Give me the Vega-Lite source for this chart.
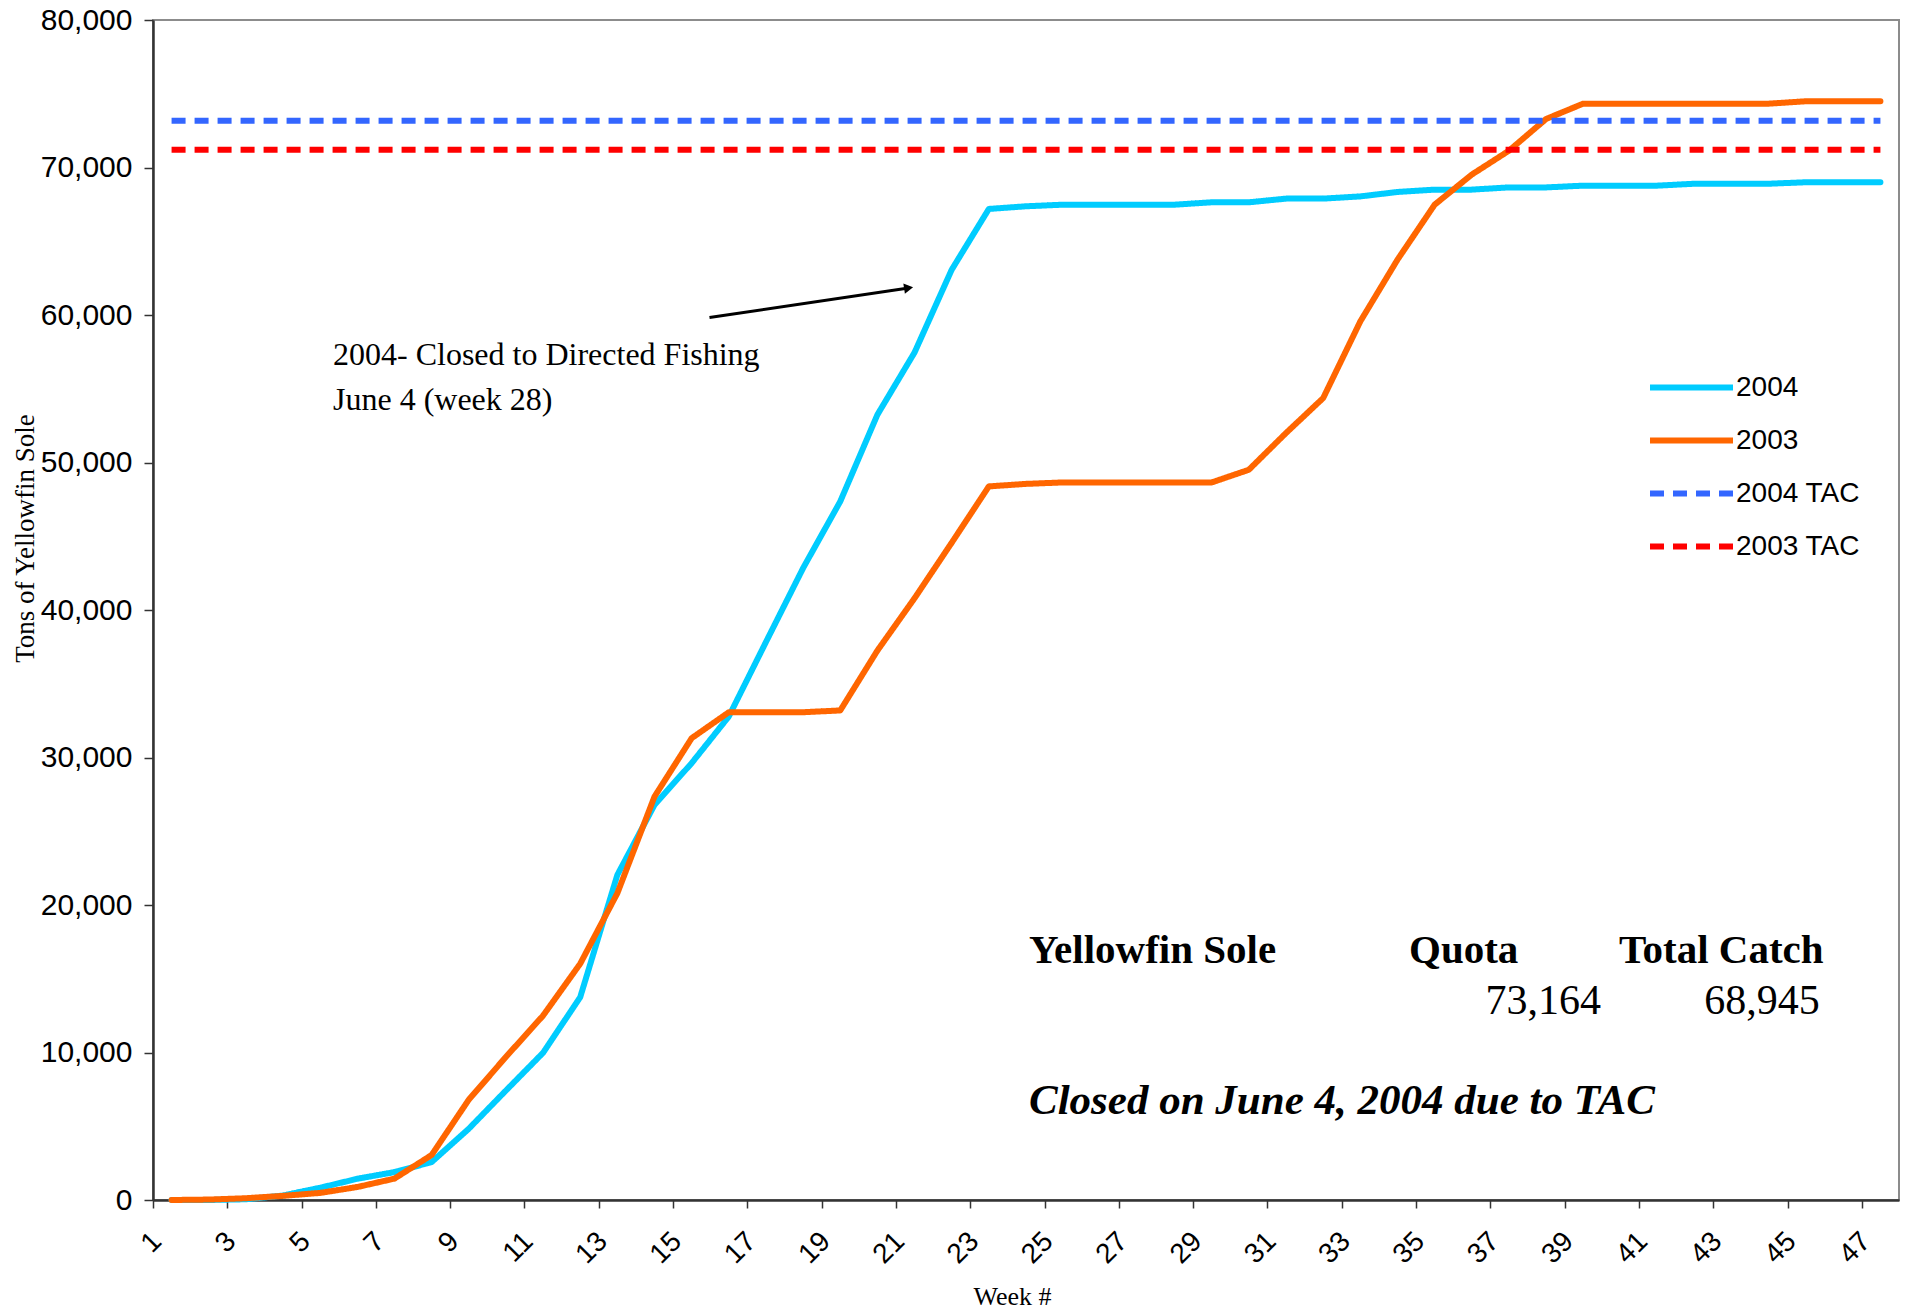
{
  "$schema": "https://vega.github.io/schema/vega-lite/v6.json",
  "autosize": {"type": "none"},
  "width": 1746,
  "height": 1180,
  "padding": {"left": 153, "top": 20, "right": 8, "bottom": 111},
  "background": "white",
  "config": {
    "view": {"stroke": "#8c8c8c", "strokeWidth": 2},
    "axis": {"grid": false},
    "legend": {
      "orient": "none",
      "legendX": 1494,
      "legendY": 342,
      "symbolType": "stroke",
      "symbolSize": 6889,
      "labelFont": "Liberation Sans",
      "labelFontSize": 28,
      "labelColor": "#000000",
      "labelOffset": 0,
      "symbolOffset": 0,
      "padding": 0,
      "clipHeight": 51,
      "rowPadding": 2,
      "titlePadding": 0
    }
  },
  "datasets": {
    "one": [{"a": 1}],
    "catch": [
      {"week": 1, "series": "2004", "tons": 0},
      {"week": 2, "series": "2004", "tons": 0},
      {"week": 3, "series": "2004", "tons": 50},
      {"week": 4, "series": "2004", "tons": 300},
      {"week": 5, "series": "2004", "tons": 830},
      {"week": 6, "series": "2004", "tons": 1440},
      {"week": 7, "series": "2004", "tons": 1890},
      {"week": 8, "series": "2004", "tons": 2570},
      {"week": 9, "series": "2004", "tons": 4830},
      {"week": 10, "series": "2004", "tons": 7420},
      {"week": 11, "series": "2004", "tons": 9980},
      {"week": 12, "series": "2004", "tons": 13750},
      {"week": 13, "series": "2004", "tons": 22040},
      {"week": 14, "series": "2004", "tons": 26790},
      {"week": 15, "series": "2004", "tons": 29620},
      {"week": 16, "series": "2004", "tons": 32780},
      {"week": 17, "series": "2004", "tons": 37830},
      {"week": 18, "series": "2004", "tons": 42840},
      {"week": 19, "series": "2004", "tons": 47360},
      {"week": 20, "series": "2004", "tons": 53240},
      {"week": 21, "series": "2004", "tons": 57460},
      {"week": 22, "series": "2004", "tons": 63070},
      {"week": 23, "series": "2004", "tons": 67190},
      {"week": 24, "series": "2004", "tons": 67370},
      {"week": 25, "series": "2004", "tons": 67480},
      {"week": 26, "series": "2004", "tons": 67480},
      {"week": 27, "series": "2004", "tons": 67480},
      {"week": 28, "series": "2004", "tons": 67480},
      {"week": 29, "series": "2004", "tons": 67640},
      {"week": 30, "series": "2004", "tons": 67640},
      {"week": 31, "series": "2004", "tons": 67890},
      {"week": 32, "series": "2004", "tons": 67890},
      {"week": 33, "series": "2004", "tons": 68040},
      {"week": 34, "series": "2004", "tons": 68340},
      {"week": 35, "series": "2004", "tons": 68500},
      {"week": 36, "series": "2004", "tons": 68500},
      {"week": 37, "series": "2004", "tons": 68650},
      {"week": 38, "series": "2004", "tons": 68650},
      {"week": 39, "series": "2004", "tons": 68770},
      {"week": 40, "series": "2004", "tons": 68770},
      {"week": 41, "series": "2004", "tons": 68770},
      {"week": 42, "series": "2004", "tons": 68900},
      {"week": 43, "series": "2004", "tons": 68900},
      {"week": 44, "series": "2004", "tons": 68900},
      {"week": 45, "series": "2004", "tons": 69000},
      {"week": 46, "series": "2004", "tons": 69000},
      {"week": 47, "series": "2004", "tons": 69000},
      {"week": 1, "series": "2003", "tons": 0},
      {"week": 2, "series": "2003", "tons": 30},
      {"week": 3, "series": "2003", "tons": 120},
      {"week": 4, "series": "2003", "tons": 280},
      {"week": 5, "series": "2003", "tons": 480},
      {"week": 6, "series": "2003", "tons": 880},
      {"week": 7, "series": "2003", "tons": 1450},
      {"week": 8, "series": "2003", "tons": 3050},
      {"week": 9, "series": "2003", "tons": 6800},
      {"week": 10, "series": "2003", "tons": 9700},
      {"week": 11, "series": "2003", "tons": 12500},
      {"week": 12, "series": "2003", "tons": 16020},
      {"week": 13, "series": "2003", "tons": 20800},
      {"week": 14, "series": "2003", "tons": 27350},
      {"week": 15, "series": "2003", "tons": 31310},
      {"week": 16, "series": "2003", "tons": 33070},
      {"week": 17, "series": "2003", "tons": 33070},
      {"week": 18, "series": "2003", "tons": 33070},
      {"week": 19, "series": "2003", "tons": 33190},
      {"week": 20, "series": "2003", "tons": 37250},
      {"week": 21, "series": "2003", "tons": 40800},
      {"week": 22, "series": "2003", "tons": 44560},
      {"week": 23, "series": "2003", "tons": 48380},
      {"week": 24, "series": "2003", "tons": 48550},
      {"week": 25, "series": "2003", "tons": 48650},
      {"week": 26, "series": "2003", "tons": 48650},
      {"week": 27, "series": "2003", "tons": 48650},
      {"week": 28, "series": "2003", "tons": 48650},
      {"week": 29, "series": "2003", "tons": 48650},
      {"week": 30, "series": "2003", "tons": 49510},
      {"week": 31, "series": "2003", "tons": 52000},
      {"week": 32, "series": "2003", "tons": 54370},
      {"week": 33, "series": "2003", "tons": 59570},
      {"week": 34, "series": "2003", "tons": 63750},
      {"week": 35, "series": "2003", "tons": 67480},
      {"week": 36, "series": "2003", "tons": 69520},
      {"week": 37, "series": "2003", "tons": 71140},
      {"week": 38, "series": "2003", "tons": 73290},
      {"week": 39, "series": "2003", "tons": 74330},
      {"week": 40, "series": "2003", "tons": 74330},
      {"week": 41, "series": "2003", "tons": 74330},
      {"week": 42, "series": "2003", "tons": 74330},
      {"week": 43, "series": "2003", "tons": 74330},
      {"week": 44, "series": "2003", "tons": 74330},
      {"week": 45, "series": "2003", "tons": 74490},
      {"week": 46, "series": "2003", "tons": 74490},
      {"week": 47, "series": "2003", "tons": 74490},
      {"week": 1, "series": "2004 TAC", "tons": 73164},
      {"week": 47, "series": "2004 TAC", "tons": 73164},
      {"week": 1, "series": "2003 TAC", "tons": 71200},
      {"week": 47, "series": "2003 TAC", "tons": 71200}
    ]
  },
  "layer": [
    {
      "data": {"name": "catch"},
      "transform": [{"filter": "datum.series == '2004' || datum.series == '2003'"}],
      "mark": {"type": "line", "strokeCap": "round", "strokeJoin": "round"},
      "encoding": {
        "x": {
          "field": "week",
          "type": "quantitative",
          "title": "Week #",
          "scale": {"domain": [0.5, 47.5], "nice": false, "zero": false},
          "axis": {
            "values": [0.5, 1.5, 2.5, 3.5, 4.5, 5.5, 6.5, 7.5, 8.5, 9.5, 10.5, 11.5, 12.5, 13.5, 14.5, 15.5, 16.5, 17.5, 18.5, 19.5, 20.5, 21.5, 22.5, 23.5, 24.5, 25.5, 26.5, 27.5, 28.5, 29.5, 30.5, 31.5, 32.5, 33.5, 34.5, 35.5, 36.5, 37.5, 38.5, 39.5, 40.5, 41.5, 42.5, 43.5, 44.5, 45.5, 46.5, 47.5],
            "labelExpr": "(datum.value + 0.5) % 2 == 1 ? '' + (datum.value + 0.5) : ''",
            "labelAngle": -45,
            "labelAlign": "right",
            "labelBaseline": "top",
            "labelOffset": -6,
            "labelPadding": 19,
            "labelFont": "Liberation Sans",
            "labelFontSize": 28,
            "labelColor": "#000000",
            "labelFlush": false,
            "labelOverlap": false,
            "labelBound": false,
            "tickSize": 8,
            "tickColor": "#333333",
            "tickWidth": 1.5,
            "domainColor": "#333333",
            "domainWidth": 2.5,
            "titleFont": "Liberation Serif",
            "titleFontSize": 26,
            "titleFontWeight": "normal",
            "titleColor": "#000000",
            "titleX": 859,
            "titleY": 104,
            "titleAlign": "center",
            "titleBaseline": "alphabetic"
          }
        },
        "y": {
          "field": "tons",
          "type": "quantitative",
          "title": "Tons of Yellowfin Sole",
          "scale": {"domain": [0, 80000], "nice": false},
          "axis": {
            "values": [0, 10000, 20000, 30000, 40000, 50000, 60000, 70000, 80000],
            "format": ",d",
            "labelFont": "Liberation Sans",
            "labelFontSize": 30,
            "labelColor": "#000000",
            "labelPadding": 12,
            "labelFlush": false,
            "tickSize": 9,
            "tickColor": "#333333",
            "tickWidth": 1.5,
            "domainColor": "#333333",
            "domainWidth": 2.5,
            "titleFont": "Liberation Serif",
            "titleFontSize": 27,
            "titleFontWeight": "normal",
            "titleColor": "#000000",
            "titleAngle": -90,
            "titleX": -120,
            "titleY": 518,
            "titleAlign": "center",
            "titleBaseline": "alphabetic"
          }
        },
        "color": {"field": "series", "type": "ordinal", "title": null, "scale": {"domain": ["2004", "2003", "2004 TAC", "2003 TAC"], "range": ["#00CCFF", "#FF6600", "#3366FF", "#FF0000"]}},
        "strokeDash": {"field": "series", "type": "ordinal", "title": null, "scale": {"domain": ["2004", "2003", "2004 TAC", "2003 TAC"], "range": [[1, 0], [1, 0], [14, 9], [14, 9]]}},
        "strokeWidth": {"field": "series", "type": "ordinal", "title": null, "scale": {"domain": ["2004", "2003", "2004 TAC", "2003 TAC"], "range": [6, 6, 3, 3]}}
      }
    },
    {
      "data": {"name": "catch"},
      "transform": [{"filter": "datum.series == '2004 TAC' || datum.series == '2003 TAC'"}],
      "mark": {"type": "line"},
      "encoding": {
        "x": {"field": "week", "type": "quantitative"},
        "y": {"field": "tons", "type": "quantitative"},
        "color": {"field": "series", "type": "ordinal", "title": null, "scale": {"domain": ["2004", "2003", "2004 TAC", "2003 TAC"], "range": ["#00CCFF", "#FF6600", "#3366FF", "#FF0000"]}},
        "strokeDash": {"field": "series", "type": "ordinal", "title": null, "scale": {"domain": ["2004", "2003", "2004 TAC", "2003 TAC"], "range": [[1, 0], [1, 0], [14, 9], [14, 9]]}},
        "strokeWidth": {"field": "series", "type": "ordinal", "title": null, "scale": {"domain": ["2004", "2003", "2004 TAC", "2003 TAC"], "range": [6, 6, 3, 3]}}
      }
    },
    {
      "data": {"name": "one"},
      "mark": {"type": "rule", "color": "#000000", "strokeWidth": 3},
      "encoding": {
        "x": {"datum": 15.48, "type": "quantitative"},
        "y": {"datum": 59830, "type": "quantitative"},
        "x2": {"datum": 20.84},
        "y2": {"datum": 61830}
      }
    },
    {
      "data": {"name": "one"},
      "mark": {"type": "point", "shape": "triangle-right", "filled": true, "color": "#000000", "opacity": 1, "size": 110, "angle": -8.6},
      "encoding": {
        "x": {"datum": 20.84, "type": "quantitative"},
        "y": {"datum": 61830, "type": "quantitative"}
      }
    },
    {
      "data": {"name": "one"},
      "mark": {"type": "text", "text": ["2004- Closed to Directed Fishing", "June 4 (week 28)"], "align": "left", "baseline": "alphabetic", "font": "Liberation Serif", "fontSize": 32, "lineHeight": 45, "color": "#000000"},
      "encoding": {
        "x": {"datum": 5.345, "type": "quantitative"},
        "y": {"datum": 56600, "type": "quantitative"}
      }
    },
    {
      "data": {"name": "one"},
      "mark": {"type": "text", "text": "Yellowfin Sole", "align": "left", "baseline": "alphabetic", "font": "Liberation Serif", "fontSize": 41, "fontWeight": "bold", "color": "#000000"},
      "encoding": {
        "x": {"datum": 24.08, "type": "quantitative"},
        "y": {"datum": 16034, "type": "quantitative"}
      }
    },
    {
      "data": {"name": "one"},
      "mark": {"type": "text", "text": "Quota", "align": "left", "baseline": "alphabetic", "font": "Liberation Serif", "fontSize": 41, "fontWeight": "bold", "color": "#000000"},
      "encoding": {
        "x": {"datum": 34.31, "type": "quantitative"},
        "y": {"datum": 16034, "type": "quantitative"}
      }
    },
    {
      "data": {"name": "one"},
      "mark": {"type": "text", "text": "Total Catch", "align": "left", "baseline": "alphabetic", "font": "Liberation Serif", "fontSize": 41, "fontWeight": "bold", "color": "#000000"},
      "encoding": {
        "x": {"datum": 39.96, "type": "quantitative"},
        "y": {"datum": 16034, "type": "quantitative"}
      }
    },
    {
      "data": {"name": "one"},
      "mark": {"type": "text", "text": "73,164", "align": "right", "baseline": "alphabetic", "font": "Liberation Serif", "fontSize": 42, "color": "#000000"},
      "encoding": {
        "x": {"datum": 39.48, "type": "quantitative"},
        "y": {"datum": 12644, "type": "quantitative"}
      }
    },
    {
      "data": {"name": "one"},
      "mark": {"type": "text", "text": "68,945", "align": "right", "baseline": "alphabetic", "font": "Liberation Serif", "fontSize": 42, "color": "#000000"},
      "encoding": {
        "x": {"datum": 45.37, "type": "quantitative"},
        "y": {"datum": 12644, "type": "quantitative"}
      }
    },
    {
      "data": {"name": "one"},
      "mark": {"type": "text", "text": "Closed on June 4, 2004 due to TAC", "align": "left", "baseline": "alphabetic", "font": "Liberation Serif", "fontSize": 43, "fontWeight": "bold", "fontStyle": "italic", "color": "#000000"},
      "encoding": {
        "x": {"datum": 24.08, "type": "quantitative"},
        "y": {"datum": 5864, "type": "quantitative"}
      }
    }
  ]
}
